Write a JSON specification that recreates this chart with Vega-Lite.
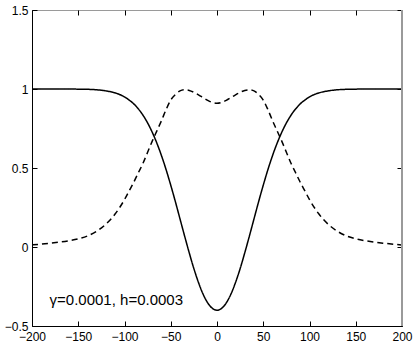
{
  "$schema": "https://vega.github.io/schema/vega-lite/v6.json",
  "width": 370,
  "height": 316,
  "autosize": {"type": "none"},
  "padding": {"left": 32, "top": 10, "right": 13, "bottom": 20},
  "background": "white",
  "config": {
    "view": {"stroke": "#9a9a9a", "strokeWidth": 1},
    "axis": {"labelFont": "Liberation Sans", "labelFontSize": 12, "labelColor": "black", "grid": false, "title": null, "tickColor": "black", "domainColor": "black", "tickSize": -5, "labelOverlap": false, "labelFlush": false, "labelBound": false}
  },
  "data": {"values": [
    {"x": -200, "y": 1.0, "s": "m"}, {"x": -180, "y": 1.0, "s": "m"}, {"x": -160, "y": 1.0, "s": "m"}, {"x": -150, "y": 0.999, "s": "m"}, {"x": -140, "y": 0.998, "s": "m"}, {"x": -130, "y": 0.995, "s": "m"}, {"x": -120, "y": 0.988, "s": "m"}, {"x": -110, "y": 0.975, "s": "m"}, {"x": -100, "y": 0.95, "s": "m"}, {"x": -95, "y": 0.93, "s": "m"}, {"x": -90, "y": 0.906, "s": "m"}, {"x": -85, "y": 0.874, "s": "m"}, {"x": -80, "y": 0.834, "s": "m"}, {"x": -75, "y": 0.785, "s": "m"}, {"x": -70, "y": 0.726, "s": "m"}, {"x": -65, "y": 0.657, "s": "m"}, {"x": -60, "y": 0.578, "s": "m"}, {"x": -55, "y": 0.489, "s": "m"}, {"x": -50, "y": 0.391, "s": "m"}, {"x": -45, "y": 0.287, "s": "m"}, {"x": -40, "y": 0.178, "s": "m"}, {"x": -35, "y": 0.069, "s": "m"}, {"x": -30, "y": -0.037, "s": "m"}, {"x": -25, "y": -0.137, "s": "m"}, {"x": -20, "y": -0.225, "s": "m"}, {"x": -15, "y": -0.299, "s": "m"}, {"x": -10, "y": -0.354, "s": "m"}, {"x": -5, "y": -0.388, "s": "m"}, {"x": 0, "y": -0.4, "s": "m"},
    {"x": 5, "y": -0.388, "s": "m"}, {"x": 10, "y": -0.354, "s": "m"}, {"x": 15, "y": -0.299, "s": "m"}, {"x": 20, "y": -0.225, "s": "m"}, {"x": 25, "y": -0.137, "s": "m"}, {"x": 30, "y": -0.037, "s": "m"}, {"x": 35, "y": 0.069, "s": "m"}, {"x": 40, "y": 0.178, "s": "m"}, {"x": 45, "y": 0.287, "s": "m"}, {"x": 50, "y": 0.391, "s": "m"}, {"x": 55, "y": 0.489, "s": "m"}, {"x": 60, "y": 0.578, "s": "m"}, {"x": 65, "y": 0.657, "s": "m"}, {"x": 70, "y": 0.726, "s": "m"}, {"x": 75, "y": 0.785, "s": "m"}, {"x": 80, "y": 0.834, "s": "m"}, {"x": 85, "y": 0.874, "s": "m"}, {"x": 90, "y": 0.906, "s": "m"}, {"x": 95, "y": 0.93, "s": "m"}, {"x": 100, "y": 0.95, "s": "m"}, {"x": 110, "y": 0.975, "s": "m"}, {"x": 120, "y": 0.988, "s": "m"}, {"x": 130, "y": 0.995, "s": "m"}, {"x": 140, "y": 0.998, "s": "m"}, {"x": 150, "y": 0.999, "s": "m"}, {"x": 160, "y": 1.0, "s": "m"}, {"x": 180, "y": 1.0, "s": "m"}, {"x": 200, "y": 1.0, "s": "m"},
    {"x": -200, "y": 0.013, "s": "n"}, {"x": -180, "y": 0.024, "s": "n"}, {"x": -160, "y": 0.04, "s": "n"}, {"x": -150, "y": 0.052, "s": "n"}, {"x": -140, "y": 0.07, "s": "n"}, {"x": -130, "y": 0.1, "s": "n"}, {"x": -120, "y": 0.145, "s": "n"}, {"x": -110, "y": 0.21, "s": "n"}, {"x": -100, "y": 0.3, "s": "n"}, {"x": -95, "y": 0.355, "s": "n"}, {"x": -90, "y": 0.41, "s": "n"}, {"x": -85, "y": 0.47, "s": "n"}, {"x": -80, "y": 0.53, "s": "n"}, {"x": -75, "y": 0.6, "s": "n"}, {"x": -70, "y": 0.67, "s": "n"}, {"x": -65, "y": 0.735, "s": "n"}, {"x": -60, "y": 0.8, "s": "n"}, {"x": -55, "y": 0.87, "s": "n"}, {"x": -50, "y": 0.93, "s": "n"}, {"x": -45, "y": 0.965, "s": "n"}, {"x": -40, "y": 0.988, "s": "n"}, {"x": -35, "y": 0.995, "s": "n"}, {"x": -30, "y": 0.991, "s": "n"}, {"x": -25, "y": 0.979, "s": "n"}, {"x": -20, "y": 0.963, "s": "n"}, {"x": -15, "y": 0.945, "s": "n"}, {"x": -10, "y": 0.928, "s": "n"}, {"x": -5, "y": 0.915, "s": "n"}, {"x": 0, "y": 0.91, "s": "n"},
    {"x": 5, "y": 0.915, "s": "n"}, {"x": 10, "y": 0.928, "s": "n"}, {"x": 15, "y": 0.945, "s": "n"}, {"x": 20, "y": 0.963, "s": "n"}, {"x": 25, "y": 0.979, "s": "n"}, {"x": 30, "y": 0.991, "s": "n"}, {"x": 35, "y": 0.995, "s": "n"}, {"x": 40, "y": 0.988, "s": "n"}, {"x": 45, "y": 0.965, "s": "n"}, {"x": 50, "y": 0.93, "s": "n"}, {"x": 55, "y": 0.87, "s": "n"}, {"x": 60, "y": 0.8, "s": "n"}, {"x": 65, "y": 0.735, "s": "n"}, {"x": 70, "y": 0.67, "s": "n"}, {"x": 75, "y": 0.6, "s": "n"}, {"x": 80, "y": 0.53, "s": "n"}, {"x": 85, "y": 0.47, "s": "n"}, {"x": 90, "y": 0.41, "s": "n"}, {"x": 95, "y": 0.355, "s": "n"}, {"x": 100, "y": 0.3, "s": "n"}, {"x": 110, "y": 0.21, "s": "n"}, {"x": 120, "y": 0.145, "s": "n"}, {"x": 130, "y": 0.1, "s": "n"}, {"x": 140, "y": 0.07, "s": "n"}, {"x": 150, "y": 0.052, "s": "n"}, {"x": 160, "y": 0.04, "s": "n"}, {"x": 180, "y": 0.024, "s": "n"}, {"x": 200, "y": 0.013, "s": "n"}
  ]},
  "layer": [
    {
      "mark": {"type": "line", "color": "black", "strokeWidth": 1.5, "interpolate": "monotone"},
      "encoding": {
        "x": {"field": "x", "type": "quantitative", "scale": {"domain": [-200, 200], "nice": false, "zero": false},
              "axis": {"orient": "bottom", "values": [-200, -150, -100, -50, 0, 50, 100, 150, 200], "format": "d", "labelPadding": 10}},
        "y": {"field": "y", "type": "quantitative", "scale": {"domain": [-0.5, 1.5], "nice": false, "zero": false},
              "axis": {"orient": "left", "values": [-0.5, 0, 0.5, 1, 1.5], "format": "~g", "labelPadding": 9}},
        "strokeDash": {"field": "s", "type": "nominal", "scale": {"domain": ["m", "n"], "range": [[1, 0], [6, 4]]}, "legend": null}
      }
    },
    {
      "data": {"values": [{"edge": "right"}]},
      "mark": {"type": "rule", "color": "#9a9a9a", "strokeWidth": 2},
      "encoding": {
        "x": {"datum": 200, "type": "quantitative", "axis": {"orient": "top", "values": [-200, -150, -100, -50, 0, 50, 100, 150, 200], "labels": false, "domain": false}}
      }
    },
    {
      "data": {"values": [{"label": "γ=0.0001, h=0.0003"}]},
      "mark": {"type": "text", "font": "Liberation Sans", "fontSize": 15, "align": "left", "baseline": "middle", "color": "black"},
      "encoding": {
        "x": {"datum": -181, "type": "quantitative", "axis": null},
        "y": {"datum": -0.335, "type": "quantitative", "axis": {"orient": "right", "values": [-0.5, 0, 0.5, 1, 1.5], "labels": false, "domain": false}},
        "text": {"field": "label", "type": "nominal"}
      }
    }
  ],
  "resolve": {"axis": {"x": "independent", "y": "independent"}}
}
